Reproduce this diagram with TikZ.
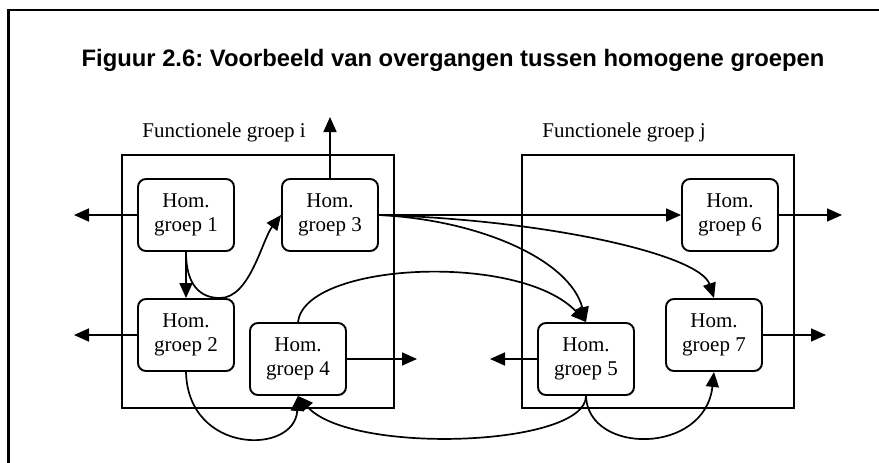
\documentclass[tikz,border=0pt]{standalone}
\usepackage{fontspec}
\setmainfont{Liberation Serif}
\newfontfamily\titlefont{Liberation Sans}
\usetikzlibrary{arrows.meta}
\frenchspacing

\begin{document}
\begin{tikzpicture}[x=1pt,y=-1pt,
  hom/.style={draw, line width=1.9pt, rounded corners=8pt, minimum width=96pt,
    minimum height=72pt, inner sep=0pt, align=center,
    font=\fontsize{21}{24}\selectfont},
  fgbox/.style={draw, line width=2.2pt, minimum width=272pt, minimum height=253pt, inner sep=0pt},
  link/.style={line width=1.7pt, -{Triangle[length=15pt,width=13pt]}},
  lbl/.style={font=\fontsize{21}{24}\selectfont, anchor=base, inner sep=0pt},
  ttl/.style={font=\titlefont\bfseries\fontsize{23.8}{26}\selectfont, anchor=base, inner sep=0pt}
]
\useasboundingbox (0,0) rectangle (879,463);

% outer frame (open at right and bottom)
\draw[line width=2.2pt] (8.5,463) -- (8.5,10) -- (879,10);

% title
\node[ttl] (title) at (453,66) {Figuur 2.6: Voorbeeld van overgangen tussen homogene groepen};

% functional groups
\node[fgbox] (fgi) at (258,281.5) {};
\node[fgbox] (fgj) at (658,281.5) {};
\node[lbl] (li) at (224,137) {Functionele groep i};
\node[lbl] (lj) at (624,137) {Functionele groep j};

% homogeneous groups
\node[hom] (h1) at (186,215) {Hom.\\groep 1};
\node[hom] (h3) at (330,215) {Hom.\\groep 3};
\node[hom] (h2) at (186,335) {Hom.\\groep 2};
\node[hom] (h4) at (298,359) {Hom.\\groep 4};
\node[hom] (h6) at (730,215) {Hom.\\groep 6};
\node[hom] (h5) at (586,359) {Hom.\\groep 5};
\node[hom] (h7) at (714,335) {Hom.\\groep 7};

% free ends of outgoing transitions
\coordinate (o1) at (74,215);
\coordinate (o3) at (330,117);
\coordinate (o6) at (842,215);
\coordinate (o2) at (74,335);
\coordinate (o4) at (417,359);
\coordinate (o5) at (490,359);
\coordinate (o7) at (826,335);

\draw[link] (h1.west) -- (o1);
\draw[link] (h3.north) -- (o3);
\draw[link] (h6.east) -- (o6);
\draw[link] (h2.west) -- (o2);
\draw[link] (h4.east) -- (o4);
\draw[link] (h5.west) -- (o5);
\draw[link] (h7.east) -- (o7);

% transitions between groups
\draw[link] (h1.south) -- (h2.north);
\draw[link] (h3.east) -- (h6.west);
\draw[link] (h1.south) .. controls (186,285) and (200,298) .. (220,298)
  .. controls (250,298) and (262,240) .. (h3.west);
\draw[link] (h3.east) .. controls (480,220) and (570,260) .. (h5.north);
\draw[link] (h3.east) .. controls (550,220) and (700,255) .. (h7.north);
\draw[link] (h4.north) .. controls (305,262) and (520,252) .. (h5.north);
\draw[link] (h2.south) .. controls (188,455) and (295,455) .. (h4.south);
\draw[link] (h5.south) .. controls (586,447) and (350,455) .. (h4.south);
\draw[link] (h5.south) .. controls (588,455) and (705,455) .. (h7.south);
\end{tikzpicture}
\end{document}
